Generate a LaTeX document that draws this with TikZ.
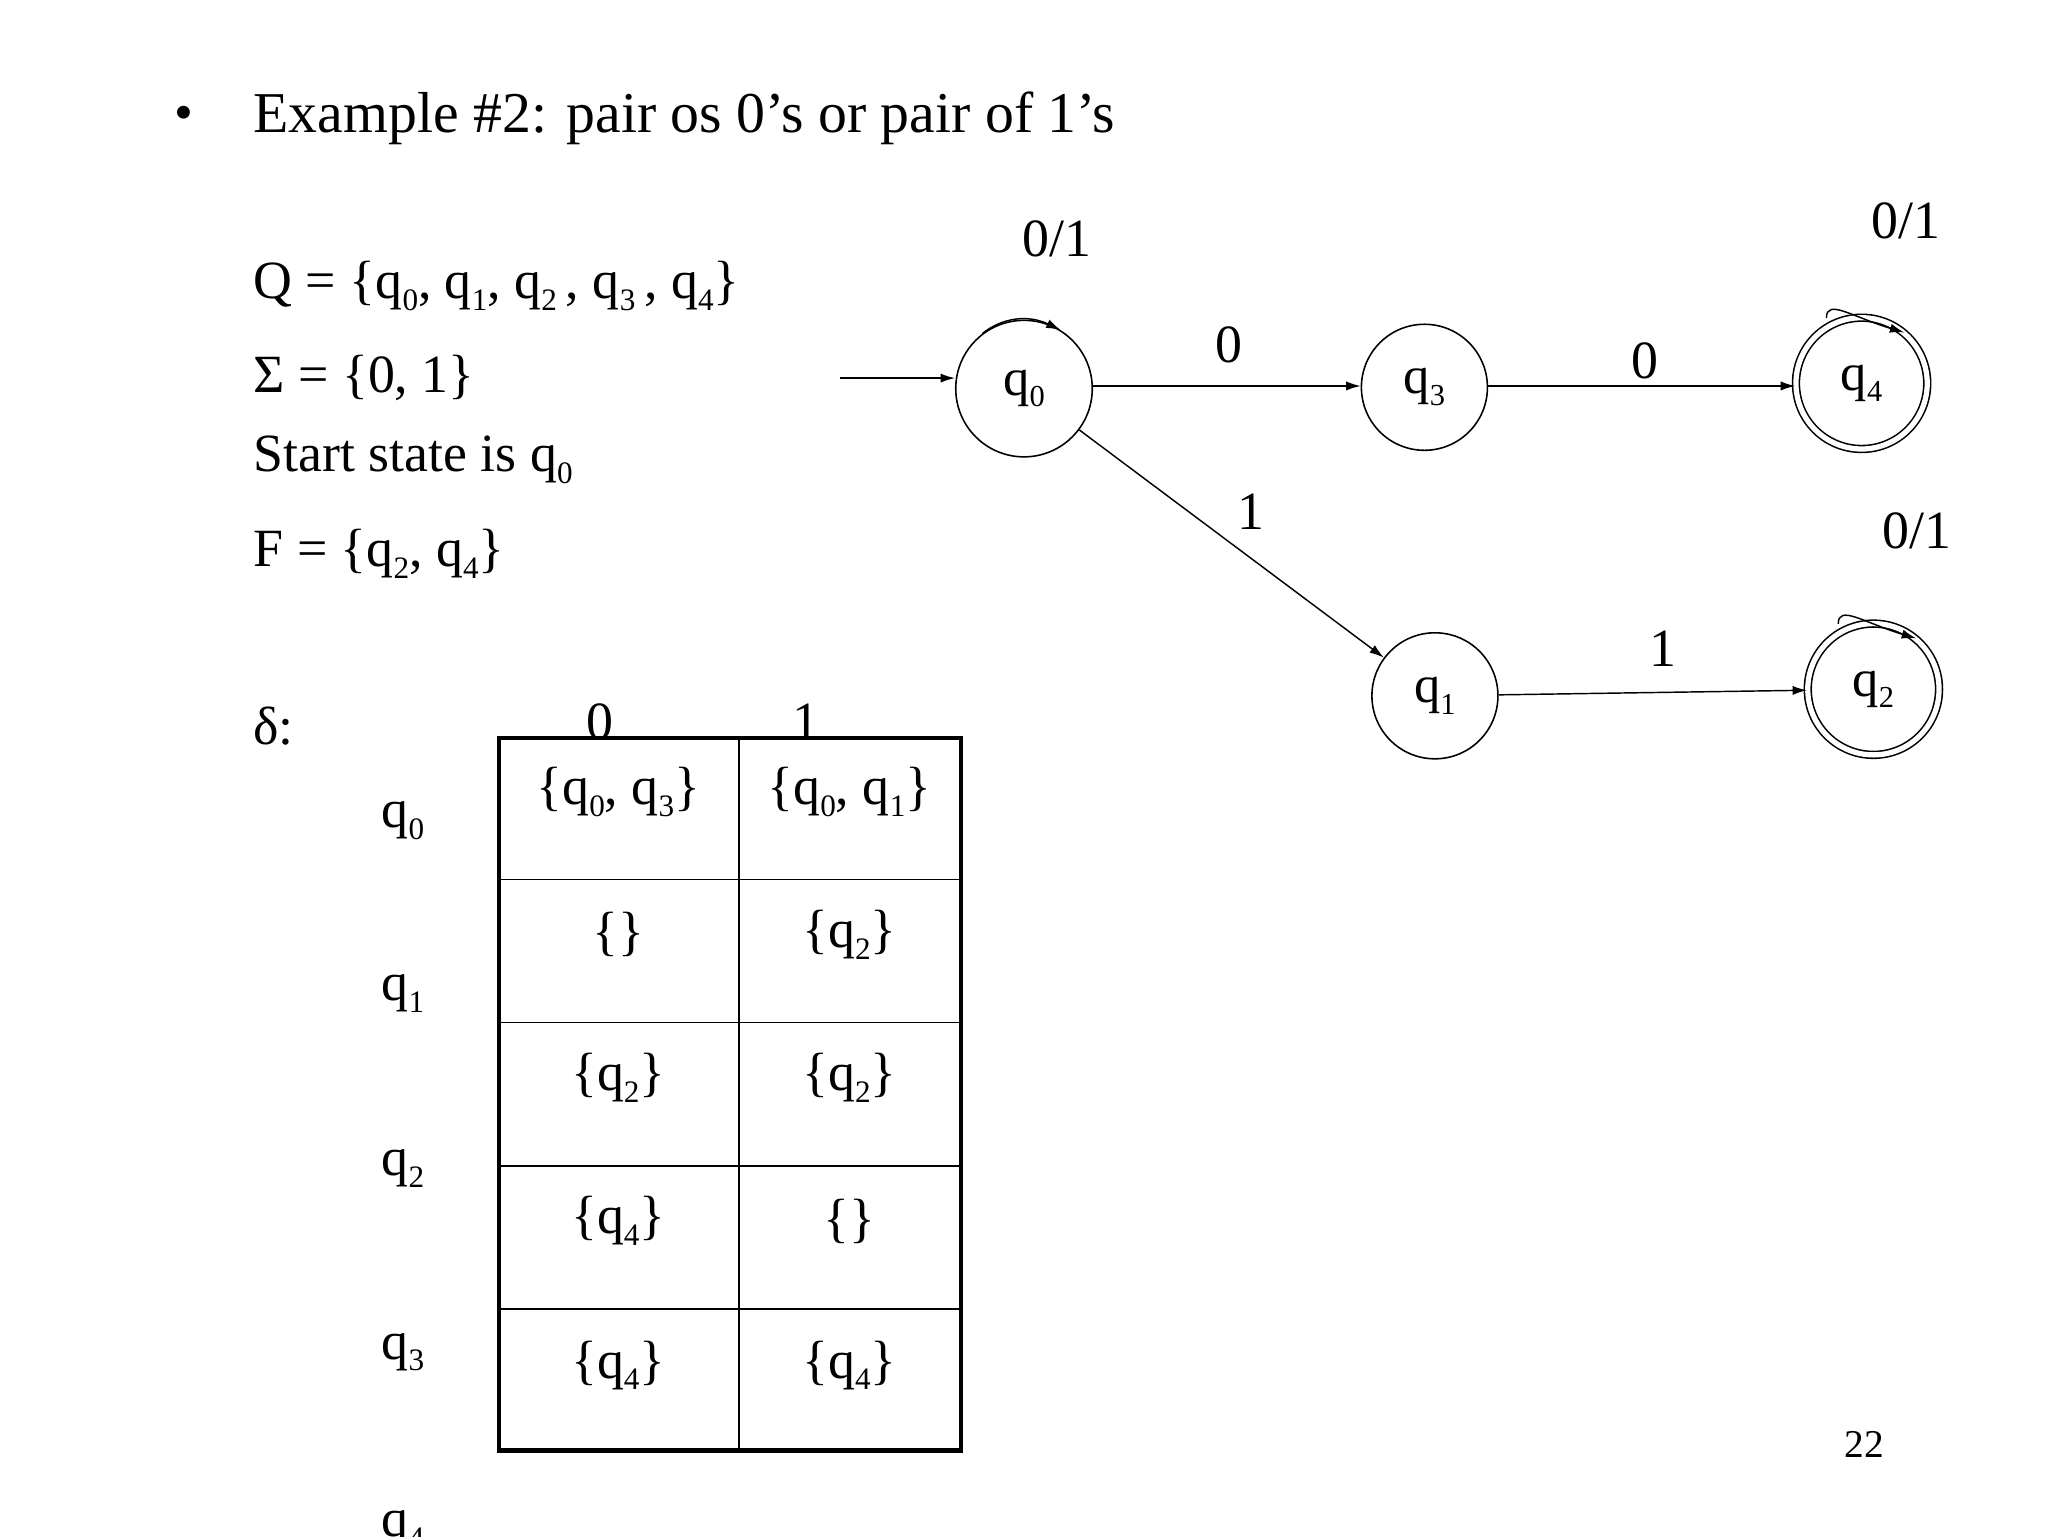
\documentclass[tikz,border=0pt]{standalone}
\usepackage{fontspec}
\setmainfont{Liberation Serif}
\usetikzlibrary{arrows.meta}
\newcommand\qq[1]{q\raisebox{-0.22em}{\scalebox{0.58}{#1}}}
\begin{document}
\begin{tikzpicture}[x=1pt,y=-1pt,
  txt/.style={font=\fontsize{41}{44}\selectfont,inner sep=0pt},
  lft/.style={txt,anchor=west},
  st/.style={draw,circle,minimum size=96pt,inner sep=0pt,font=\fontsize{40}{44}\selectfont,line width=1.2pt},
  acc/.style={st,double,double distance=4pt},
  ed/.style={-{Latex[length=11pt,width=7pt]},line width=1.1pt}]
\useasboundingbox (0,0) rectangle (1560,1170);
\node[txt] (bul) at (140,90) {•};
\node[lft,font=\fontsize{44}{46}\selectfont] (title) at (193,90) {Example \#2: pair os 0’s or pair of 1’s};
\node[lft] (Q) at (193,218) {Q = \{\qq0, \qq1, \qq2\,, \qq3\,, \qq4\}};
\node[lft] (S) at (193,288) {Σ = \{0, 1\}};
\node[lft] (ss) at (193,350) {Start state is \qq0};
\node[lft] (F) at (193,422) {F = \{\qq2, \qq4\}};
\node[lft] (d) at (193,553) {δ:};
\node[txt] (r0) at (307,625) {\qq0};
\node[txt] (r1) at (307,757) {\qq1};
\node[txt] (r2) at (307,890) {\qq2};
\node[txt] (r3) at (307,1030) {\qq3};
\node[txt] (r4) at (307,1165) {\qq4};
% table
\draw[line width=1.2pt] (563,562) -- (563,1105);
\foreach \y in {670,779,888,997} \draw[line width=1.2pt] (380,\y) -- (732,\y);
\draw[line width=3.5pt] (380,562) rectangle (732,1105);
\node[txt] (h0) at (457,550) {0};
\node[txt] (h1) at (614,550) {1};
\node[txt] at (471,603) {\{\qq0, \qq3\}};
\node[txt] at (647,603) {\{\qq0, \qq1\}};
\node[txt] at (471,712) {\{\}};
\node[txt] at (647,712) {\{\qq2\}};
\node[txt] at (471,821) {\{\qq2\}};
\node[txt] at (647,821) {\{\qq2\}};
\node[txt] at (471,930) {\{\qq4\}};
\node[txt] at (647,930) {\{\}};
\node[txt] at (471,1040) {\{\qq4\}};
\node[txt] at (647,1040) {\{\qq4\}};
% automaton
\node[st,minimum size=104pt] (q0) at (780,296) {\qq0};
\node[st] (q3) at (1085,295) {\qq3};
\node[acc,minimum size=100pt] (q4) at (1418,292) {\qq4};
\node[st] (q1) at (1093,530) {\qq1};
\node[acc,minimum size=100pt] (q2) at (1427,525) {\qq2};
\coordinate (start) at (640,288);
\draw[ed] (start) -- (start -| q0.west);
\draw[ed] (q0.east |- 0,294) -- (q3.west |- 0,294);
\draw[ed] (q3.east |- 0,294) -- (q4.west |- 0,294);
\draw[ed] (q0) -- (q1);
\draw[ed] (q1) -- (q2);
\node[txt] (l03) at (936,263) {0};
\node[txt] (l34) at (1253,275) {0};
\node[txt] (l01) at (953,390) {1};
\node[txt] (l12) at (1267,494) {1};
\draw[ed] (q0.127) .. controls +(15,-12) and +(-25,-12) .. (q0.58);
\draw[ed] ([xshift=-18pt]q4.100) .. controls +(0,-15) and +(-40,-12) .. (q4.50);
\draw[ed] ([xshift=-18pt]q2.100) .. controls +(0,-15) and +(-40,-12) .. (q2.50);
\node[txt] (lq0) at (805,182) {0/1};
\node[txt] (lq4) at (1452,168) {0/1};
\node[txt] (lq2) at (1460,404) {0/1};
\node[font=\fontsize{30}{32}\selectfont] (pg) at (1420,1100) {22};
\end{tikzpicture}
\end{document}
